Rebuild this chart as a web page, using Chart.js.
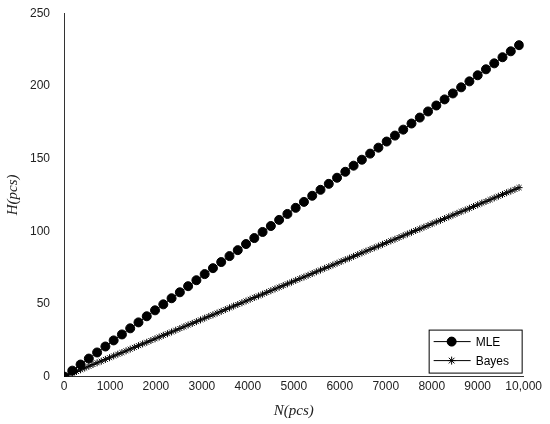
<!DOCTYPE html>
<html lang="en">
  <head>
    <meta charset="UTF-8" />
    <title>MLE vs Bayes</title>
    <script src="https://cdn.jsdelivr.net/npm/chart.js"></script>
    <style>
      body { margin: 0; background: #fff; }
      .grafico { width: 550px; height: 424px; }
    </style>
  </head>
  <body>
    <div class="grafico">
      <canvas id="myCanvas"></canvas>
    </div>

    <script>
      // sample spacing along N
      const passoMLE = 180;
      const passoBayes = 90;

      const valoresMLE = [0, 4.1, 8.3, 12.4, 16.6, 20.7, 24.9, 29.0, 33.2, 37.3, 41.5, 45.6, 49.7, 53.9, 58.0, 62.2, 66.3, 70.5, 74.6, 78.8, 82.9, 87.0, 91.2, 95.3, 99.5, 103.6, 107.8, 111.9, 116.1, 120.2, 124.4, 128.5, 132.6, 136.8, 140.9, 145.1, 149.2, 153.4, 157.5, 161.7, 165.8, 169.9, 174.1, 178.2, 182.4, 186.5, 190.7, 194.8, 199.0, 203.1, 207.3, 211.4, 215.5, 219.7, 223.8, 228.0];

      const valoresBayes = [0, 1.2, 2.4, 3.5, 4.7, 5.9, 7.1, 8.3, 9.5, 10.6, 11.8, 13.0, 14.2, 15.4, 16.5, 17.7, 18.9, 20.1, 21.3, 22.5, 23.6, 24.8, 26.0, 27.2, 28.4, 29.5, 30.7, 31.9, 33.1, 34.3, 35.5, 36.6, 37.8, 39.0, 40.2, 41.4, 42.5, 43.7, 44.9, 46.1, 47.3, 48.5, 49.6, 50.8, 52.0, 53.2, 54.4, 55.5, 56.7, 57.9, 59.1, 60.3, 61.5, 62.6, 63.8, 65.0, 66.2, 67.4, 68.5, 69.7, 70.9, 72.1, 73.3, 74.5, 75.6, 76.8, 78.0, 79.2, 80.4, 81.5, 82.7, 83.9, 85.1, 86.3, 87.5, 88.6, 89.8, 91.0, 92.2, 93.4, 94.5, 95.7, 96.9, 98.1, 99.3, 100.5, 101.6, 102.8, 104.0, 105.2, 106.4, 107.5, 108.7, 109.9, 111.1, 112.3, 113.5, 114.6, 115.8, 117.0, 118.2, 119.4, 120.5, 121.7, 122.9, 124.1, 125.3, 126.5, 127.6, 128.8, 130.0];

      const ticksX = [0, 1000, 2000, 3000, 4000, 5000, 6000, 7000, 8000, 9000, 10000];
      const ticksY = [0, 50, 100, 150, 200, 250];

      const pontosMLE = valoresMLE.map((v, i) => ({ x: i * passoMLE, y: v }));
      const pontosBayes = valoresBayes.map((v, i) => ({ x: i * passoBayes, y: v }));

      // legend box drawn inside the plot, bottom right
      const legendaInterna = {
        id: "legendaInterna",
        afterDraw(chart) {
          const ctx = chart.ctx;
          const a = chart.chartArea;
          const w = 93, h = 43;
          const x0 = a.right - w - 2, y0 = a.bottom - h - 4;
          ctx.save();
          ctx.fillStyle = "#fff";
          ctx.fillRect(x0, y0, w, h);
          ctx.strokeStyle = "#000";
          ctx.lineWidth = 1;
          ctx.strokeRect(x0 + 0.5, y0 + 0.5, w, h);
          ctx.font = "12px 'Liberation Sans', Arial";
          ctx.fillStyle = "#000";
          ctx.textBaseline = "middle";
          const linhas = [
            { y: y0 + 12, txt: "MLE", estilo: "circle", r: 4.5 },
            { y: y0 + 31, txt: "Bayes", estilo: "star", r: 4 },
          ];
          linhas.forEach((l) => {
            ctx.beginPath();
            ctx.moveTo(x0 + 5, l.y);
            ctx.lineTo(x0 + 42, l.y);
            ctx.stroke();
            ctx.fillStyle = "#000";
            Chart.helpers.drawPoint(ctx, { pointStyle: l.estilo, radius: l.r, borderWidth: 1 }, x0 + 23, l.y);
            ctx.fill();
            ctx.fillText(l.txt, x0 + 47, l.y + 1);
          });
          ctx.restore();
        },
      };

      const ctx = document.getElementById("myCanvas").getContext("2d");
      new Chart(ctx, {
        type: "scatter",
        data: {
          datasets: [
            {
              label: "MLE",
              data: pontosMLE,
              showLine: true,
              borderColor: "#000",
              backgroundColor: "#000",
              borderWidth: 1,
              pointRadius: 4.5,
              pointStyle: "circle",
            },
            {
              label: "Bayes",
              data: pontosBayes,
              showLine: true,
              borderColor: "#000",
              backgroundColor: "#000",
              borderWidth: 1,
              pointRadius: 3.5,
              pointBorderWidth: 1,
              pointStyle: "star",
            },
          ],
        },
        plugins: [legendaInterna],
        options: {
          responsive: true,
          maintainAspectRatio: false,
          animation: false,
          layout: { padding: { top: 4, right: 24, left: 0, bottom: 0 } },
          plugins: {
            legend: { display: false },
            tooltip: { enabled: false },
          },
          scales: {
            x: {
              type: "linear",
              min: 0,
              max: 10000,
              afterBuildTicks: (s) => { s.ticks = ticksX.map((v) => ({ value: v })); },
              grid: { display: false, drawTicks: true, tickLength: -5, color: "#333" },
              border: { color: "#333" },
              ticks: {
                color: "#222",
                padding: 8,
                font: { family: "'Liberation Sans', Arial", size: 12 },
                callback: (v) => (v === 10000 ? "10,000" : v),
                maxRotation: 0,
              },
              title: {
                display: true,
                text: "N(pcs)",
                color: "#222",
                padding: { top: 0 },
                font: { family: "'Liberation Serif', serif", size: 15, style: "italic" },
              },
            },
            y: {
              min: 0,
              max: 250,
              afterBuildTicks: (s) => { s.ticks = ticksY.map((v) => ({ value: v })); },
              grid: { display: false },
              border: { color: "#333" },
              ticks: {
                color: "#222",
                padding: 6,
                font: { family: "'Liberation Sans', Arial", size: 12 },
              },
              title: {
                display: true,
                text: "H(pcs)",
                color: "#222",
                padding: { bottom: 2 },
                font: { family: "'Liberation Serif', serif", size: 15, style: "italic" },
              },
            },
          },
        },
      });
    </script>
  </body>
</html>
